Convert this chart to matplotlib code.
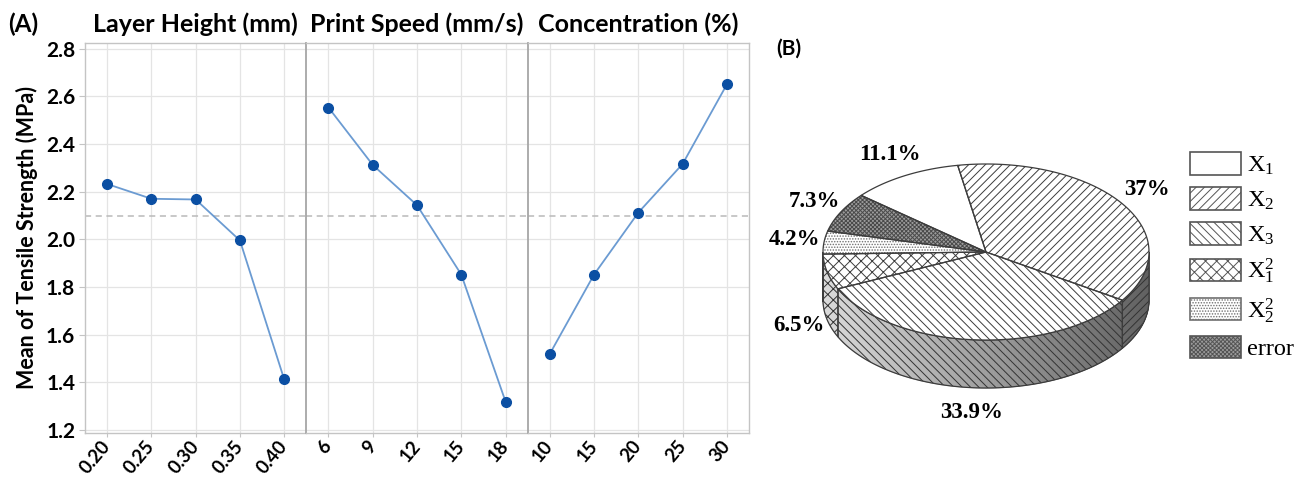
import numpy as np
import matplotlib
matplotlib.use('Agg')
import matplotlib.pyplot as plt
from matplotlib.patches import Polygon, Patch

# ---------------- data ----------------
panel_titles = ['Layer Height (mm)', 'Print Speed (mm/s)', 'Concentration (%)']
layer_height = ['0.20', '0.25', '0.30', '0.35', '0.40']
print_speed = ['6', '9', '12', '15', '18']
concentration = ['10', '15', '20', '25', '30']
lh_mean = [2.232, 2.170, 2.167, 1.995, 1.412]
ps_mean = [2.553, 2.312, 2.143, 1.852, 1.319]
co_mean = [1.519, 1.852, 2.112, 2.316, 2.650]
grand_mean = 2.097
y_ticks = [1.2, 1.4, 1.6, 1.8, 2.0, 2.2, 2.4, 2.6, 2.8]
y_label = 'Mean of Tensile Strength (MPa)'

pie_names = [r'$\mathrm{X}_{1}$', r'$\mathrm{X}_{2}$', r'$\mathrm{X}_{3}$',
             r'$\mathrm{X}_{1}^{2}$', r'$\mathrm{X}_{2}^{2}$', 'error']
pie_values = [11.1, 37.0, 33.9, 6.5, 4.2, 7.3]
pie_texts = ['11.1%', '37%', '33.9%', '6.5%', '4.2%', '7.3%']

# ---------------- style ----------------
W, H = 1303, 478
plt.rcParams['font.family'] = ['Lato', 'DejaVu Sans']
plt.rcParams['hatch.linewidth'] = 0.7
plt.rcParams['mathtext.fontset'] = 'custom'
plt.rcParams['mathtext.rm'] = 'Liberation Serif'
plt.rcParams['mathtext.it'] = 'Liberation Serif:italic'
plt.rcParams['mathtext.bf'] = 'Liberation Serif:bold'

fig = plt.figure(figsize=(W / 100, H / 100), dpi=100)

mark_col = '#0b4fa3'
line_col = '#6b9bd2'
grid_col = '#e4e4e4'
outer_col = '#c4c4c4'
div_col = '#a6a6a6'

ax_left, ax_right, ax_top, ax_bot = 85, 749, 42.7, 433
pw = (ax_right - ax_left) / 3
ymin, ymax = 1.187, 2.825
panels = [(layer_height, lh_mean), (print_speed, ps_mean), (concentration, co_mean)]
axes = []
for i, ((cats, vals), title) in enumerate(zip(panels, panel_titles)):
    ax = fig.add_axes([(ax_left + i * pw) / W, 1 - ax_bot / H, pw / W, (ax_bot - ax_top) / H])
    axes.append(ax)
    xs = np.arange(len(cats))
    ax.plot(xs, vals, color=line_col, lw=1.3, zorder=3)
    ax.plot(xs, vals, 'o', color=mark_col, ms=7, zorder=4)
    ax.axhline(grand_mean, color='#b9b9b9', lw=1.1, ls=(0, (4, 3)), zorder=2)
    ax.set_xlim(-0.5, len(cats) - 0.5)
    ax.set_ylim(ymin, ymax)
    ax.set_xticks(xs)
    ax.set_xticklabels(cats, rotation=50, ha='right', va='center', rotation_mode='anchor',
                       fontsize=13.5, fontweight='bold')
    ax.set_yticks(y_ticks)
    ax.grid(True, color=grid_col, lw=0.9, zorder=0)
    ax.set_axisbelow(True)
    ax.tick_params(axis='x', length=3, color=outer_col, pad=4)
    ax.tick_params(axis='y', length=4, color=outer_col, pad=3)
    for s in ax.spines.values():
        s.set_color(outer_col)
        s.set_linewidth(1.0)
    if i > 0:
        ax.spines['left'].set_color(div_col)
        ax.spines['left'].set_linewidth(1.3)
        ax.tick_params(axis='y', left=False, labelleft=False)
    else:
        ax.set_yticklabels([f'{t:.1f}' for t in y_ticks], fontsize=15, fontweight='bold')
        ax.set_ylabel(y_label, fontsize=15.5, fontweight='bold', labelpad=6)
    if i < 2:
        ax.spines['right'].set_visible(False)
    fig.text((ax_left + (i + 0.5) * pw) / W, 1 - 24 / H, title, ha='center', va='center',
             fontsize=18, fontweight='bold')

fig.text(8 / W, 1 - 24 / H, '(A)', ha='left', va='center', fontsize=17.5, fontweight='bold')
fig.text(789 / W, 1 - 49 / H, '(B)', ha='center', va='center', fontsize=15, fontweight='bold')

# ---------------- 3D pie ----------------
pax = fig.add_axes([760 / W, 0, (W - 760) / W, 1])
pax.set_xlim(760, W)
pax.set_ylim(H, 0)
pax.axis('off')

cx, cy, a, b, depth = 986, 252, 163, 88, 48
start = 100.0
edge_col = '#3c3c3c'
face_cols = ['white', 'white', 'white', 'white', 'white', '#9c9c9c']
hatches = [None, '////', '\\\\\\\\', 'xxx', '......', 'xxxxxxxx']
hatch_cols = ['#3c3c3c', '#3c3c3c', '#3c3c3c', '#3c3c3c', '#707070', '#4a4a4a']
draw_order = [0, 5, 4, 3, 2, 1]   # counter-clockwise from start angle


def pt(theta, drop=0.0):
    t = np.radians(theta)
    return cx + a * np.cos(t), cy - b * np.sin(t) + drop


def arc(t0, t1, drop=0.0, n=None):
    n = n or max(3, int(abs(t1 - t0) * 2))
    th = np.linspace(t0, t1, n)
    x, y = pt(th, drop)
    return np.column_stack([x, y])


def shade(theta):
    c = np.cos(np.radians(theta))
    g = 0.86 - 0.48 * (1 + c) / 2
    return (g, g, g)


cur = start
spans = {}
for idx in draw_order:
    t0, t1 = cur, cur + pie_values[idx] * 3.6
    spans[idx] = (t0, t1)
    cur = t1

# walls (front half: 180..360 degrees)
for idx in draw_order:
    t0, t1 = spans[idx]
    for k in (-1, 0, 1):
        lo, hi = max(t0, 180 + 360 * k), min(t1, 360 + 360 * k)
        if hi <= lo:
            continue
        steps = np.arange(lo, hi, 0.5)
        steps = np.append(steps, hi)
        for s0, s1 in zip(steps[:-1], steps[1:]):
            quad = np.vstack([arc(s0, s1, 0, 2), arc(s1, s0, depth, 2)])
            pax.add_patch(Polygon(quad, closed=True, facecolor=shade((s0 + s1) / 2),
                                  edgecolor=shade((s0 + s1) / 2), lw=0.6, zorder=1))
        wall = np.vstack([arc(lo, hi), arc(hi, lo, depth)])
        if hatches[idx]:
            pax.add_patch(Polygon(wall, closed=True, facecolor='none', hatch=hatches[idx],
                                  edgecolor='#333333', lw=0, zorder=2))
        pax.add_patch(Polygon(wall, closed=True, facecolor='none', edgecolor=edge_col,
                              lw=0.9, zorder=3))

# top faces
for idx in draw_order:
    t0, t1 = spans[idx]
    poly = np.vstack([[cx, cy], arc(t0, t1)])
    pax.add_patch(Polygon(poly, closed=True, facecolor=face_cols[idx], edgecolor=hatch_cols[idx],
                          hatch=hatches[idx], lw=0, zorder=4))
    pax.add_patch(Polygon(poly, closed=True, facecolor='none', edgecolor=edge_col,
                          lw=0.9, zorder=5))
    mid = (t0 + t1) / 2
    s = np.sin(np.radians(mid))
    lx = cx + 1.18 * a * np.cos(np.radians(mid))
    ly = cy - 1.28 * b * s + (depth if s < 0 else 0)
    pax.text(lx, ly, pie_texts[idx], ha='center', va='center', fontsize=16.5,
             fontweight='bold', family='Liberation Serif', zorder=6)

# legend
handles = [Patch(facecolor=face_cols[i], edgecolor=hatch_cols[i] if i == 4 else '#555555',
                 hatch=hatches[i], lw=1.2, label=pie_names[i]) for i in range(len(pie_names))]
leg = pax.legend(handles=handles, loc='upper left', bbox_to_anchor=(1190, 152),
                 bbox_transform=pax.transData, frameon=False, borderpad=0, borderaxespad=0,
                 handlelength=2.1, handleheight=1.05, handletextpad=0.25, labelspacing=0.42,
                 prop={'family': 'Liberation Serif', 'size': 17.5})

fig.savefig('out.png', dpi=100)
